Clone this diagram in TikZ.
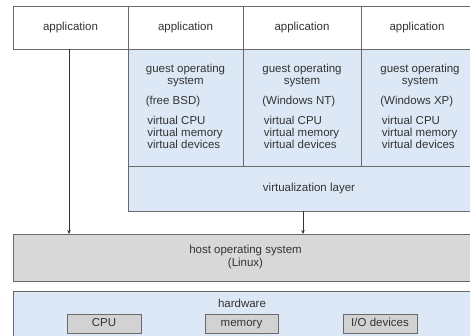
\documentclass[tikz,border=0pt]{standalone}
\usepackage{fontspec}
\setmainfont{Liberation Sans}
\usetikzlibrary{arrows.meta}
\definecolor{linec}{HTML}{6A6A6A}
\definecolor{txt}{HTML}{333333}
\definecolor{vmblue}{HTML}{DCE8F5}
\definecolor{hostgray}{HTML}{D8D8D8}
\definecolor{partgray}{HTML}{D2D2D2}
\tikzset{
  box/.style={draw=linec, line width=0.9pt, inner sep=0pt, outer sep=0pt,
    anchor=north west, text=txt, align=center,
    font=\fontsize{11.5}{13}\selectfont},
  appbox/.style={box, fill=white, minimum height=43pt},
  guestbox/.style={box, fill=vmblue, minimum height=117pt},
  part/.style={box, fill=partgray, minimum width=74pt, minimum height=19pt,
    text height=8pt, text depth=2pt},
  lbl/.style={inner sep=0pt, outer sep=0pt, text=txt, font=\fontsize{11.5}{12}\selectfont},
  arr/.style={draw=black!80, line width=1pt, -{Stealth[length=4pt,width=3.5pt]}}
}
\begin{document}
\begin{tikzpicture}[x=1pt, y=-1pt]
\useasboundingbox (0,0) rectangle (470,336);
\begin{scope}
\clip (0,0) rectangle (470,336);

% application row
\node[appbox, minimum width=115pt] (app0) at (13,6) {application};
\node[appbox, minimum width=115pt] (app1) at (128,6) {application};
\node[appbox, minimum width=118pt] (app2) at (243,6) {application};
\node[appbox, minimum width=112pt] (app3) at (361,6) {application};

% guest machines
\node[guestbox, minimum width=115pt] (vm1) at (128,49) {};
\node[guestbox, minimum width=118pt] (vm2) at (243,49) {};
\node[guestbox, minimum width=112pt] (vm3) at (361,49) {};

% guest contents
\node[lbl, align=center, anchor=north] (g1) at (185.5,64) {guest operating\\system};
\node[lbl, align=center, anchor=north] (g2) at (302,64) {guest operating\\system};
\node[lbl, align=center, anchor=north] (g3) at (420,64) {guest operating\\system};
\node[lbl, anchor=base west] (os1) at (g1.west |- 0,105) {(free BSD)};
\node[lbl, anchor=base west] (os2) at (g2.west |- 0,105) {(Windows NT)};
\node[lbl, anchor=base west] (os3) at (g3.west |- 0,105) {(Windows XP)};
\node[lbl, align=left, anchor=north west] (v1) at ([xshift=1.5pt]g1.west |- 0,116) {virtual CPU\\virtual memory\\virtual devices};
\node[lbl, align=left, anchor=north west] (v2) at ([xshift=1.5pt]g2.west |- 0,116) {virtual CPU\\virtual memory\\virtual devices};
\node[lbl, align=left, anchor=north west] (v3) at ([xshift=1.5pt]g3.west |- 0,116) {virtual CPU\\virtual memory\\virtual devices};

% virtualization layer
\node[box, fill=vmblue, minimum width=362pt, minimum height=45pt] (virt) at (128,166) {virtualization layer};

% host operating system
\node[box, fill=hostgray, minimum width=465pt, minimum height=47pt] (host) at (13,234) {host operating system\\(Linux)};

% hardware
\node[box, fill=vmblue, minimum width=460pt, minimum height=52pt] (hw) at (13,291) {};
\node[lbl, anchor=base] (hwl) at (242,307) {hardware};
\node[part] (cpu) at (67,314) {CPU};
\node[part, minimum width=73pt] (mem) at (205,314) {memory};
\node[part] (io) at (343,314) {I/O devices};

% connectors
\coordinate (lx) at (69,0);
\coordinate (vx) at (303,0);
\draw[arr] (app0.south -| lx) -- (host.north -| lx);
\draw[arr] (virt.south -| vx) -- (host.north -| vx);
\end{scope}
\end{tikzpicture}
\end{document}
